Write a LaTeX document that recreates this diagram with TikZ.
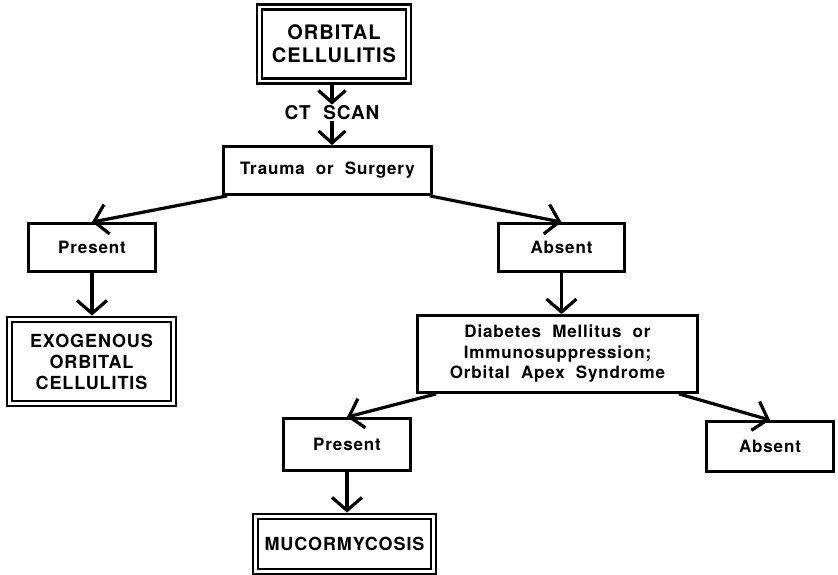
\documentclass[tikz,border=0pt]{standalone}
\usepackage{fontspec}
\setmainfont{TeX Gyre Heros}[LetterSpace=5,WordSpace=2]
\usetikzlibrary{arrows.meta}
\begin{document}
\begin{tikzpicture}[x=1pt,y=-1pt,
  box/.style={draw,line width=2.8pt,inner sep=0pt,align=center,font=\fontsize{17}{20.5}\selectfont\bfseries},
  dblbox/.style={draw,double,line width=2.4pt,double distance=2.6pt,inner sep=0pt,align=center,font=\fontsize{18}{21}\selectfont\bfseries},
  conn/.style={line width=3.2pt,-{Straight Barb[length=13pt,width=30pt]}},
  conntop/.style={line width=3.2pt,-{Straight Barb[length=12pt,width=27pt]}}]
\useasboundingbox (0,0) rectangle (838,575);
\node[dblbox,minimum width=149pt,minimum height=74pt,font=\fontsize{20}{23}\selectfont\bfseries] (orb) at (334,44) {ORBITAL\\CELLULITIS};
\node[inner sep=1pt,font=\fontsize{19}{22}\selectfont\bfseries] (ct) at (332,113) {CT SCAN};
\node[box,minimum width=208pt,minimum height=48pt] (tr) at (327.5,170.5) {Trauma or Surgery};
\node[box,minimum width=127pt,minimum height=48pt] (pl) at (92,247.5) {Present};
\node[box,minimum width=126pt,minimum height=48pt] (ab) at (561.5,247.5) {Absent};
\node[dblbox,minimum width=163.5pt,minimum height=83.5pt] (exo) at (91.5,361.5) {EXOGENOUS\\ORBITAL\\CELLULITIS};
\node[box,minimum width=280pt,minimum height=77pt] (dm) at (557.5,354) {Diabetes Mellitus or\\Immunosuppression;\\Orbital Apex Syndrome};
\node[box,minimum width=127pt,minimum height=52pt] (pr2) at (347,444.5) {Present};
\node[box,minimum width=127pt,minimum height=50pt] (ab2) at (770,446.5) {Absent};
\node[dblbox,minimum width=177.5pt,minimum height=54.5pt] (mu) at (344.5,544) {MUCORMYCOSIS};
\coordinate (orbs) at (orb.south -| ct.north);
\draw[conntop,shorten <=3pt] (orbs) -- (ct.north);
\draw[conntop] (ct.south) -- (tr.north -| ct.south);
\draw[conn] ([xshift=5pt]tr.south west) -- (pl.north);
\draw[conn] ([xshift=-3pt]tr.south east) -- (ab.north);
\draw[conn,shorten >=3pt] (pl.south) -- (exo.north -| pl.south);
\draw[conn] (ab.south) -- (dm.north -| ab.south);
\draw[conn] ([xshift=20pt]dm.south west) -- (pr2.north);
\draw[conn] ([xshift=-20pt]dm.south east) -- (ab2.north);
\draw[conn,shorten >=3pt] (pr2.south) -- (mu.north -| pr2.south);
\end{tikzpicture}
\end{document}
